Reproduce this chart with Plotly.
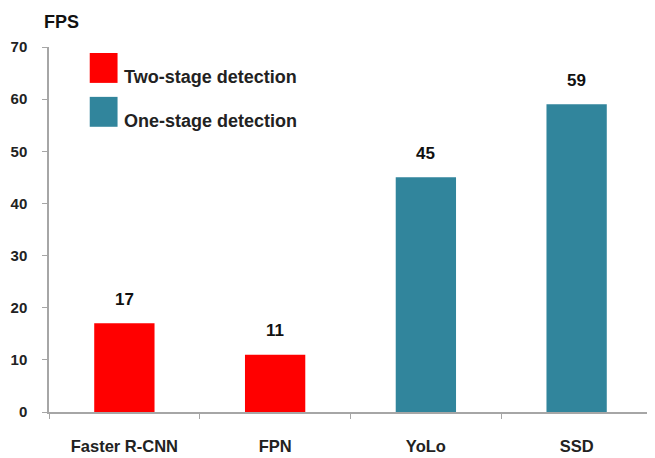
import plotly.graph_objects as go

two_stage_models = ["Faster R-CNN", "FPN"]
two_stage_fps = [17, 11]
one_stage_models = ["YoLo", "SSD"]
one_stage_fps = [45, 59]
categories = ["Faster R-CNN", "FPN", "YoLo", "SSD"]
y_ticks = [0, 10, 20, 30, 40, 50, 60, 70]

RED = "#FF0000"
TEAL = "#31859C"
FONT = "Liberation Sans Narrow, Liberation Sans, Arial, sans-serif"
BOLD = "Liberation Sans, Arial, sans-serif"

# page body has an 8px default margin; plot area spans x 45..652, y 47..413 in the page
fig = go.Figure()
fig.add_trace(go.Bar(x=two_stage_models, y=two_stage_fps, marker=dict(color=RED, line=dict(width=0)),
                     width=0.4, name="Two-stage detection", showlegend=False))
fig.add_trace(go.Bar(x=one_stage_models, y=one_stage_fps, marker=dict(color=TEAL, line=dict(width=0)),
                     width=0.4, name="One-stage detection", showlegend=False))

for xs, ys in ((two_stage_models, two_stage_fps), (one_stage_models, one_stage_fps)):
    for x, y in zip(xs, ys):
        fig.add_annotation(x=x, y=y, text=f"<b>{y}</b>", showarrow=False, yshift=24,
                           font=dict(family=BOLD, size=17, color="#111111"))

# custom legend
legend_items = [("Two-stage detection", RED), ("One-stage detection", TEAL)]
for i, (label, col) in enumerate(legend_items):
    y0 = 53 + i * 44
    fig.add_shape(type="rect", xref="paper", yref="paper",
                  x0=(86 - 45) / 607, x1=(114 - 45) / 607,
                  y0=1 - (y0 + 30 - 47) / 366, y1=1 - (y0 - 47) / 366,
                  fillcolor=col, line=dict(width=0))
    fig.add_annotation(xref="paper", yref="paper", x=(118 - 45) / 607, y=1 - (y0 + 24 - 47) / 366,
                       text=f"<b>{label}</b>", showarrow=False, xanchor="left", yanchor="middle",
                       font=dict(family=BOLD, size=18, color="#222222"))

fig.add_annotation(xref="paper", yref="paper", x=(38 - 45) / 607, y=1 - (22 - 47) / 366,
                   text="<b>FPS</b>", showarrow=False, xanchor="left", yanchor="middle",
                   font=dict(family=BOLD, size=18, color="#111111"))

fig.update_layout(
    width=647, height=450,
    margin=dict(l=37, r=3, t=39, b=45),
    paper_bgcolor="white", plot_bgcolor="white",
    barmode="overlay",
    showlegend=False,
    xaxis=dict(categoryorder="array", categoryarray=categories, tickmode="array", tickvals=categories,
               ticktext=[f"<b>{c}</b>" for c in categories],
               showline=True, linecolor="#A6A6A6", linewidth=1.5,
               ticks="outside", tickson="boundaries", ticklen=5, tickcolor="#A6A6A6",
               showgrid=False, tickfont=dict(family=FONT, size=16.5, color="#222222"),
               ticklabelstandoff=18, range=[-0.5, 3.5]),
    yaxis=dict(range=[0, 70], tickvals=y_ticks, ticktext=[f"<b>{v}</b>" for v in y_ticks],
               showline=True, linecolor="#A6A6A6", linewidth=1.5,
               ticks="outside", ticklen=5, tickcolor="#A6A6A6", showgrid=False, zeroline=False,
               tickfont=dict(family=BOLD, size=15, color="#222222"), ticklabelstandoff=12),
)

fig.write_html("out.html")
